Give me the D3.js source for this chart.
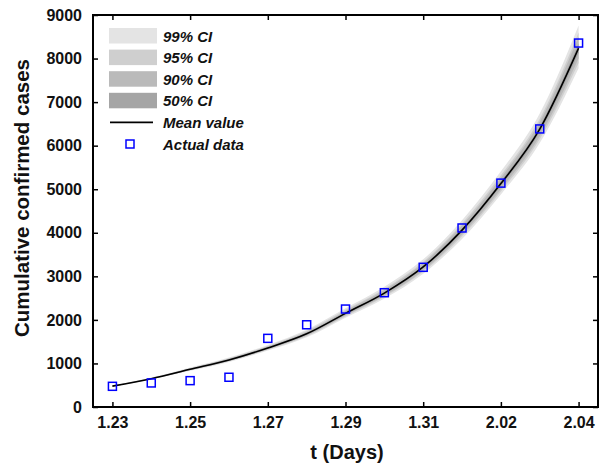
<!DOCTYPE html>
<html lang="en">
<head>
<meta charset="UTF-8">
<title>Cumulative confirmed cases</title>
<style>
    body { margin: 0; background: #fff; }
    text { font-family: "Liberation Sans", Arial, sans-serif; font-weight: bold; fill: #111; }
</style>
</head>
<body>
<script src="https://cdn.jsdelivr.net/npm/d3@7"></script>
<script type="text/javascript">
    //Width and height
    var w = 611;
    var h = 465;

    // days on the x axis (one per observation), labels on every other one
    var days = ["1.23", "1.24", "1.25", "1.26", "1.27", "1.28", "1.29", "1.30", "1.31", "2.01", "2.02", "2.03", "2.04"];
    var tickLabels = ["1.23", "1.25", "1.27", "1.29", "1.31", "2.02", "2.04"];
    var yTicks = [0, 1000, 2000, 3000, 4000, 5000, 6000, 7000, 8000, 9000];

    var actual = [475, 552, 605, 683, 1576, 1888, 2249, 2624, 3207, 4110, 5140, 6384, 8356];
    var mean = [480, 650, 865, 1080, 1355, 1680, 2150, 2615, 3215, 4060, 5130, 6380, 8240];

    var ci99Lo = [470, 630, 830, 1035, 1295, 1600, 2050, 2490, 3060, 3860, 4880, 6060, 7780];
    var ci99Hi = [490, 675, 905, 1135, 1425, 1775, 2265, 2760, 3390, 4290, 5410, 6740, 8760];
    var ci95Lo = [473, 637, 842, 1050, 1315, 1625, 2080, 2530, 3105, 3920, 4950, 6150, 7900];
    var ci95Hi = [488, 667, 892, 1118, 1403, 1745, 2230, 2715, 3335, 4215, 5320, 6620, 8600];
    var ci90Lo = [475, 641, 849, 1058, 1326, 1640, 2098, 2555, 3135, 3960, 5000, 6215, 8000];
    var ci90Hi = [486, 662, 884, 1106, 1388, 1722, 2205, 2685, 3300, 4170, 5265, 6550, 8500];
    var ci50Lo = [478, 646, 858, 1070, 1342, 1662, 2126, 2588, 3180, 4015, 5075, 6310, 8130];
    var ci50Hi = [482, 655, 872, 1090, 1368, 1697, 2172, 2642, 3250, 4105, 5185, 6450, 8350];

    var bands = [
        {name: "99% CI", lo: ci99Lo, hi: ci99Hi, color: "#e4e4e4"},
        {name: "95% CI", lo: ci95Lo, hi: ci95Hi, color: "#cfcfcf"},
        {name: "90% CI", lo: ci90Lo, hi: ci90Hi, color: "#bababa"},
        {name: "50% CI", lo: ci50Lo, hi: ci50Hi, color: "#a5a5a5"}
    ];

    // plot frame (note: "top" is reserved on window, so prefix)
    var pL = 93, pR = 598, pT = 15, pB = 407;

    var xScale = d3.scaleLinear()
        .domain([-0.5, days.length - 0.5])
        .range([pL, pR]);
    var yScale = d3.scaleLinear()
        .domain([0, 9000])
        .range([pB, pT]);

    var tickIdx = tickLabels.map(function(t) { return days.indexOf(t); });

    //Create SVG element
    var svg = d3.select("body")
        .append("svg")
        .attr("width", w)
        .attr("height", h);

    //CI bands, widest first
    bands.forEach(function(b) {
        var area = d3.area()
            .x(function(d, i) { return xScale(i); })
            .y0(function(d, i) { return yScale(b.lo[i]); })
            .y1(function(d, i) { return yScale(b.hi[i]); })
            .curve(d3.curveMonotoneX);
        svg.append("path")
            .datum(days)
            .attr("d", area)
            .attr("fill", b.color);
    });

    //Mean line
    var line = d3.line()
        .x(function(d, i) { return xScale(i); })
        .y(function(d) { return yScale(d); })
        .curve(d3.curveMonotoneX);
    svg.append("path")
        .datum(mean)
        .attr("d", line)
        .attr("fill", "none")
        .attr("stroke", "#000")
        .attr("stroke-width", 1.6);

    //Actual data squares
    var sq = 8;
    svg.selectAll("rect.pt")
        .data(actual)
        .enter()
        .append("rect")
        .attr("class", "pt")
        .attr("x", function(d, i) { return xScale(i) - sq / 2; })
        .attr("y", function(d) { return yScale(d) - sq / 2; })
        .attr("width", sq)
        .attr("height", sq)
        .attr("fill", "none")
        .attr("stroke", "#0000ff")
        .attr("stroke-width", 1.5);

    //Axes (ticks point inward, mirrored on top and right)
    var tl = 5;
    var xBottom = d3.axisBottom(xScale).tickValues(tickIdx).tickSize(-tl).tickPadding(10)
        .tickFormat(function(d) { return days[d]; });
    var xTop = d3.axisTop(xScale).tickValues(tickIdx).tickSize(-tl).tickFormat("");
    var yLeft = d3.axisLeft(yScale).tickValues(yTicks).tickSize(-tl).tickPadding(11)
        .tickFormat(d3.format("d"));
    var yRight = d3.axisRight(yScale).tickValues(yTicks).tickSize(-tl).tickFormat("");

    function styleAxis(g) {
        g.select(".domain").remove();
        g.selectAll("line").attr("stroke", "#000").attr("stroke-width", 1.5);
        g.selectAll("text").style("font-size", "16px").style("font-weight", "bold")
            .style("font-family", "'Liberation Sans', Arial, sans-serif")
            .attr("fill", "#111");
    }
    svg.append("g").attr("transform", "translate(0," + pB + ")").call(xBottom).call(styleAxis);
    svg.append("g").attr("transform", "translate(0," + pT + ")").call(xTop).call(styleAxis);
    svg.append("g").attr("transform", "translate(" + pL + ",0)").call(yLeft).call(styleAxis);
    svg.append("g").attr("transform", "translate(" + pR + ",0)").call(yRight).call(styleAxis);

    //Frame
    svg.append("rect")
        .attr("x", pL)
        .attr("y", pT)
        .attr("width", pR - pL)
        .attr("height", pB - pT)
        .attr("fill", "none")
        .attr("stroke", "#000")
        .attr("stroke-width", 2);

    //Axis titles
    svg.append("text")
        .attr("x", 347)
        .attr("y", 459)
        .attr("text-anchor", "middle")
        .style("font-size", "20px")
        .text("t (Days)");
    svg.append("text")
        .attr("transform", "translate(29,198) rotate(-90)")
        .attr("text-anchor", "middle")
        .style("font-size", "20.5px")
        .text("Cumulative confirmed cases");

    //Legend
    var lx = 109, ly = 28, step = 21.6;
    var legend = svg.append("g");
    bands.forEach(function(b, i) {
        legend.append("rect")
            .attr("x", lx)
            .attr("y", ly + i * step)
            .attr("width", 48)
            .attr("height", 15.5)
            .attr("fill", b.color);
        legend.append("text")
            .attr("x", lx + 54)
            .attr("y", ly + i * step + 13.5)
            .style("font-size", "15px")
            .style("font-style", "italic")
            .text(b.name);
    });
    legend.append("line")
        .attr("x1", lx + 1).attr("x2", lx + 44)
        .attr("y1", ly + 4 * step + 8).attr("y2", ly + 4 * step + 8)
        .attr("stroke", "#000").attr("stroke-width", 1.6);
    legend.append("text")
        .attr("x", lx + 54)
        .attr("y", ly + 4 * step + 13.5)
        .style("font-size", "15px")
        .style("font-style", "italic")
        .text("Mean value");
    legend.append("rect")
        .attr("x", lx + 21 - 4).attr("y", ly + 5 * step + 8 - 4)
        .attr("width", 8).attr("height", 8)
        .attr("fill", "none")
        .attr("stroke", "#0000ff").attr("stroke-width", 1.5);
    legend.append("text")
        .attr("x", lx + 54)
        .attr("y", ly + 5 * step + 13.5)
        .style("font-size", "15px")
        .style("font-style", "italic")
        .text("Actual data");
</script>
</body>
</html>
